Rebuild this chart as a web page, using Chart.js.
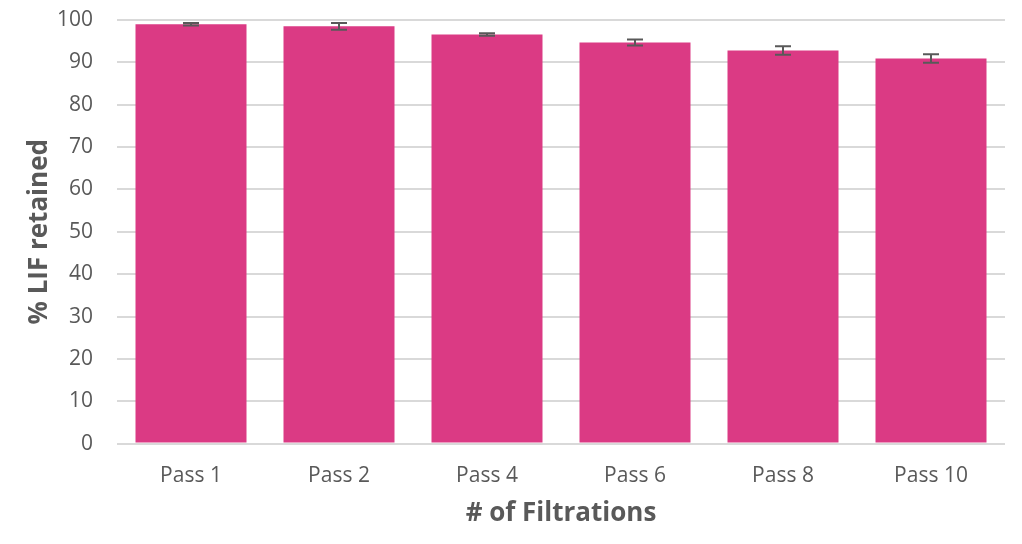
<!DOCTYPE html>
<html>
<head>
<meta charset="utf-8">
<script src="https://cdn.jsdelivr.net/npm/chart.js@4/dist/chart.umd.min.js"></script>
<style>
  html, body { margin: 0; padding: 0; background: #fff; }
  #chart { display: block; }
</style>
</head>
<body>
<canvas id="chart" width="1022" height="544"></canvas>
<script>
var passes = ["Pass 1", "Pass 2", "Pass 4", "Pass 6", "Pass 8", "Pass 10"];
var retained = [99.0, 98.5, 96.6, 94.7, 92.8, 90.9];
var errors = [0.3, 0.8, 0.3, 0.7, 1.0, 1.0];
var yTicks = [0, 10, 20, 30, 40, 50, 60, 70, 80, 90, 100];

var textColor = "#595959";
var fontFamily = "'Open Sans', 'Noto Sans', sans-serif";

// draws the +/- error whiskers on top of each bar
var errorBars = {
  id: "errorBars",
  afterDatasetsDraw: function(chart) {
    var ctx = chart.ctx;
    var meta = chart.getDatasetMeta(0);
    var y = chart.scales.y;
    ctx.save();
    ctx.strokeStyle = "#595959";
    ctx.lineWidth = 2;
    meta.data.forEach(function(bar, i) {
      var v = retained[i];
      var top = y.getPixelForValue(v + errors[i]);
      var bottom = y.getPixelForValue(v - errors[i]);
      var half = 8;
      ctx.beginPath();
      ctx.moveTo(bar.x, top);
      ctx.lineTo(bar.x, bottom);
      ctx.moveTo(bar.x - half, top);
      ctx.lineTo(bar.x + half, top);
      ctx.moveTo(bar.x - half, bottom);
      ctx.lineTo(bar.x + half, bottom);
      ctx.stroke();
    });
    ctx.restore();
  }
};

new Chart(document.getElementById("chart").getContext("2d"), {
  type: "bar",
  data: {
    labels: passes,
    datasets: [{
      data: retained,
      backgroundColor: "#DB3A84",
      categoryPercentage: 0.75,
      barPercentage: 1.0
    }]
  },
  options: {
    responsive: false,
    animation: false,
    layout: { padding: { top: 20, right: 17, left: 20, bottom: 11 } },
    plugins: { legend: { display: false }, tooltip: { enabled: false } },
    scales: {
      x: {
        grid: { display: false },
        border: { display: false },
        ticks: { color: textColor, font: { family: fontFamily, size: 21 }, padding: 12 },
        title: {
          display: true,
          text: "# of Filtrations",
          color: textColor,
          font: { family: fontFamily, size: 26, weight: "bold" },
          padding: { top: -3 }
        }
      },
      y: {
        min: 0,
        max: 100,
        afterBuildTicks: function(axis) {
          axis.ticks = yTicks.map(function(v) { return { value: v }; });
        },
        afterFit: function(axis) {
          // let the layout padding alone decide where the plot starts
          axis.paddingTop = 0;
          axis.paddingBottom = 0;
          axis.width = 97;
        },
        grid: { color: "#d9d9d9", lineWidth: 2, drawTicks: false },
        border: { display: false },
        ticks: { color: textColor, font: { family: fontFamily, size: 21 }, padding: 24 },
        title: {
          display: true,
          text: "% LIF retained",
          color: textColor,
          font: { family: fontFamily, size: 26, weight: "bold" },
          padding: { bottom: 3 }
        }
      }
    }
  },
  plugins: [errorBars]
});
</script>
</body>
</html>
